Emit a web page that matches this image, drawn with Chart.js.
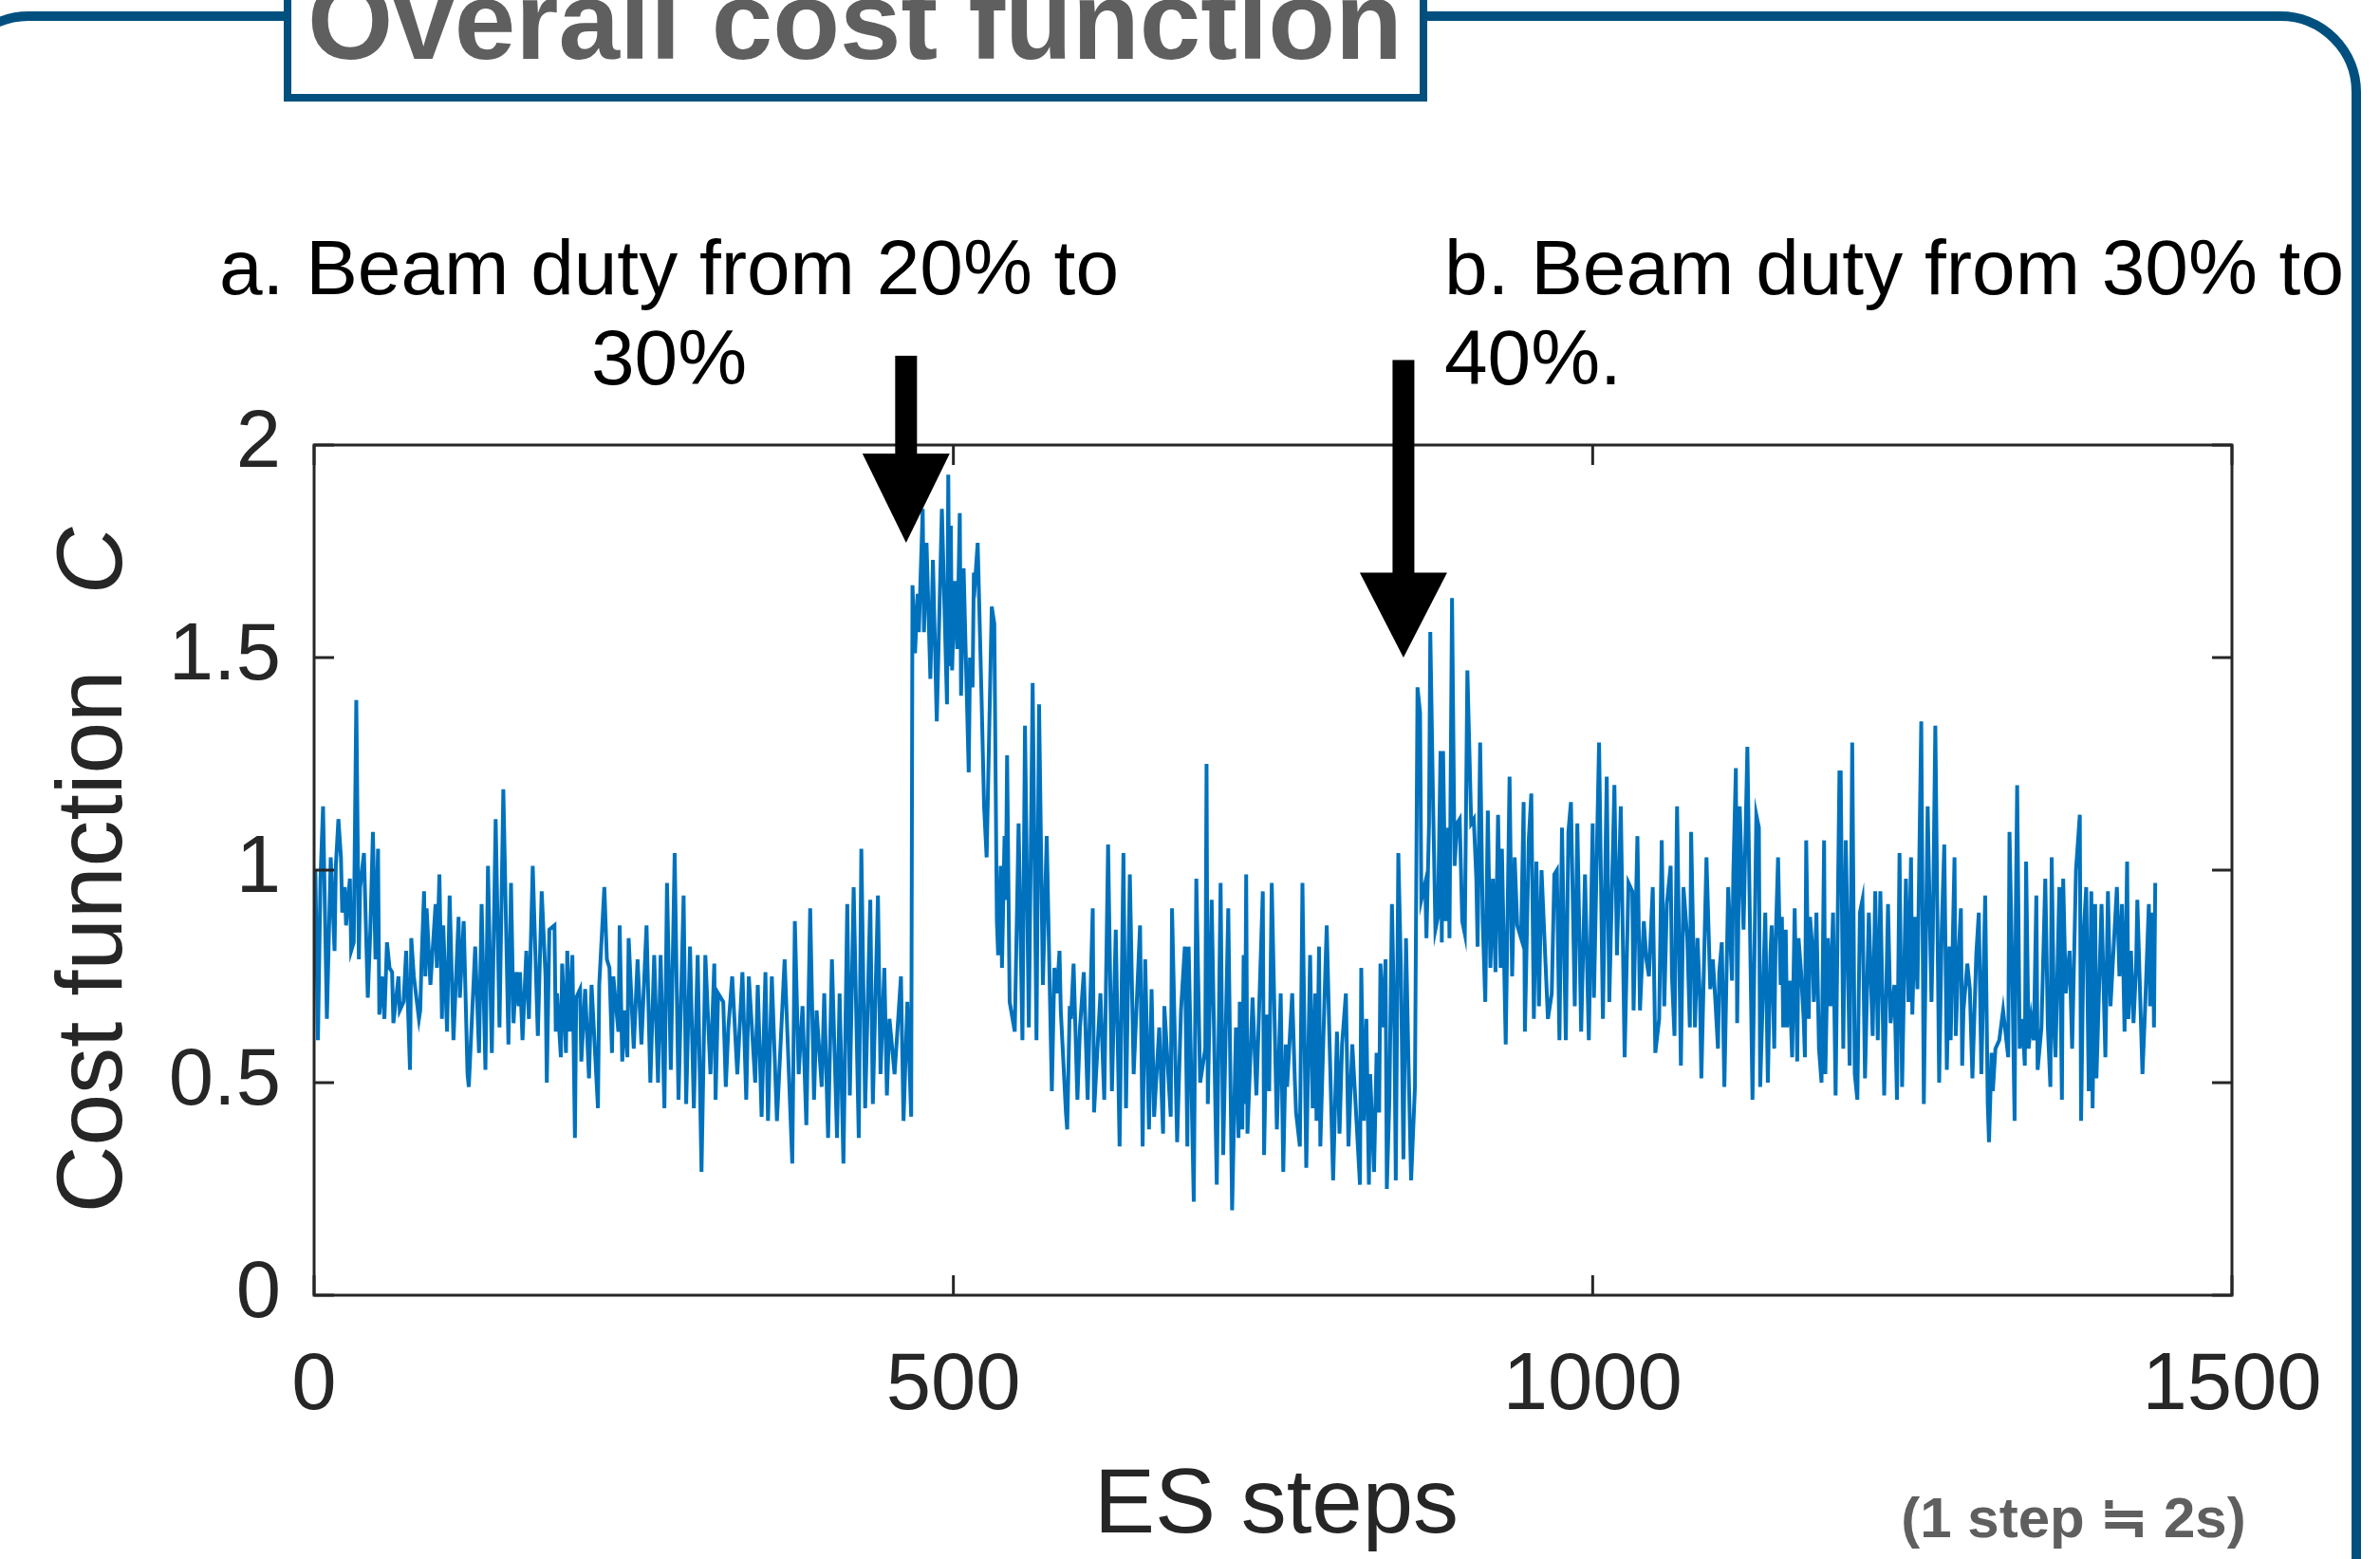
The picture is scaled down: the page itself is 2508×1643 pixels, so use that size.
<!DOCTYPE html>
<html>
<head>
<meta charset="utf-8">
<script src="https://cdn.jsdelivr.net/npm/chart.js@4.4.1/dist/chart.umd.min.js"></script>
<style>
  html, body { margin: 0; padding: 0; background: #fff; }
  #wrap { width: 2508px; height: 1643px; }
</style>
</head>
<body>
<div id="wrap"><canvas id="costChart" width="2508" height="1643"></canvas></div>
<script>
// ES step of each point (peaks and dips)
const steps = [
  0,1,3,5,7,10,13,16,17,19, 21,22,24,25,28,29,31,33,35,36, 39,42,44,46,48,50,51,53,55,57,
  59,61,62,66,67,70,72,75,76,78, 82,83,84,86,87,88,91,95,96,98, 100,101,104,106,109,113,114,117,120,121,
  126,129,131,134,136,139,142,145,148,152, 154,156,158,160,161,163,166,168,171,175, 178,181,182,184,188,189,190,193,194,197,
  198,200,202,204,205,208,209,212,215,217, 222,223,227,229,231,233,234,238,239,241, 243,245,246,250,253,256,260,263,266,269,
  271,274,276,279,282,285,289,291,294,297, 300,303,306,310,313,314,316,320,322,324, 327,331,335,338,340,345,347,350,353,355,
  358,362,368,374,376,
  // 20% -> 30% change
  379,382,385,388,391,393,397,399,402,405, 409,411,414,417,419,422,426,428,431,435, 437,441,443,446,448,450,454,459,461,464,
  467,468,470,472,473,476,477,479,482,484, 487,491,495,496,497,498,499,501,503,505, 506,508,512,513,515,516,517,519,522,524,
  526,530,532,534,535,537,538,540,541,542, 544,548,551,554,556,559,562,565,567,570, 573,577,579,581,583,584,588,589,591,592,
  594,597,599,602,605,609,610,615,618,621, 624,627,630,633,635,638,641,646,648,650, 653,655,657,661,664,665,670,671,675,678,
  681,683,684,688,690,693,697,698,699,702, 706,709,711,715,718,721,723,724,726,727, 728,729,730,734,737,742,743,745,747,749,
  // 30% -> 40% change
  753,756,758,760,761,765,767,768,771,773, 776,779,781,783,784,786,787,790,792,794, 797,800,802,804,807,809,812,814,818,819,
  821,823,825,826,829,831,833,834,836,838, 839,841,843,845,846,848,850,852,854,856, 858,861,863,865,866,869,870,872,873,875,
  877,879,881,882,883,885,887,888,890,892, 894,896,898,900,902,905,907,909,910,912, 914,916,918,920,922,924,926,928,929,932,
  935,937,939,941,944,946,947,950,952,954, 956,958,960,963,965,968,970,972,974,976, 979,981,983,986,988,991,994,997,1000,1001,
  1005,1008,1011,1013,1017,1019,1022,1025,1028,1031, 1032,1035,1037,1040,1042,1044,1047,1049,1052,1054,
  1056,1058,1061,1062,1064,1066,1069,1071,1074,1076, 1077,1080,1082,1084,1085,1087,1089,1092,1094,1096,
  1098,1099,1101,1103,1106,1109,1110,1112,1113,1115, 1118,1121,
  1125,1128,1130,1131,1135,1137,1139,1140,1142,1143, 1145,1147,1148,1149,1151,1152,1154,1156,1158,1160,
  1161,1163,1165,1166,1167,1169,1170,1172,1173,1175, 1177,1179,1181,1182,1184,1186,1188,1190,1193,1194,
  1196,1198,1201,1203,1205,1207,1209,1211,1213,1216, 1219,1221,1223,1225,1227,1228,1231,1233,1236,1238,
  1240,1242,1245,1247,1249,1250,1252,1254,1257,1259, 1262,1265,1266,1268,1271,1273,1275,1277,1279,1280,
  1283,1284,1286,1288,1289,1290,1293,1295,1297,1300, 1302,1304,1307,1309,1310,1312,1313,1315,1318,1321,
  1325,1326,1328,1330,1331,1332,1334,1336,1338,1339, 1341,1343,1345,1347,1348,1351,1354,1356,1358,1359,
  1361,1362,1365,1367,1368,1370,1373,1375,1378,1381, 1382,1384,1386,1388,1390,1391,1393,1394,1398,1401,
  1403,1405,1410,1412,1414,1416,1418,1419,1421,1423, 1425,1426,1430,1432,1435,1436,1438,1439,1440
];

// cost function C at those steps
const cost = [
  .78,1.00,.60,.98,1.15,.65,1.03,.81,1.01,1.12, 1.03,.90,.96,.87,.98,.81,.83,1.40,.79,.96, 1.04,.70,.86,1.09,.79,1.05,.66,.75,.65,.83,
  .77,.76,.64,.75,.67,.69,.81,.53,.84,.75, .65,.67,.78,.95,.75,.91,.73,.92,.77,.99, .65,.87,.62,.94,.60,.89,.70,.88,.52,.49,
  .82,.57,.92,.53,1.01,.57,1.12,.63,1.19,.59, .97,.64,.76,.68,.76,.60,.81,.65,1.01,.61, .95,.75,.50,.86,.87,.62,.71,.56,.78,.57,
  .81,.62,.80,.37,.70,.72,.55,.72,.51,.73, .44,.73,.96,.79,.77,.57,.75,.62,.87,.55, .67,.56,.84,.58,.79,.59,.87,.50,.80,.50,
  .80,.44,.97,.53,1.04,.46,.94,.45,.82,.44, .80,.29,.80,.52,.78,.46,.71,.69,.49,.63, .75,.52,.76,.46,.75,.50,.73,.42,.76,.41,
  .75,.41,.79,.31,.88,
  .52,.68,.40,.91,.46,.67,.49,.71,.37,.79, .37,.71,.31,.92,.47,.96,.37,1.05,.44,.93, .45,.94,.52,.77,.47,.65,.52,.75,.41,.69,
  .42,1.67,1.51,1.65,1.56,1.85,1.56,1.77,1.45,1.73, 1.35,1.85,1.39,1.93,1.48,1.81,1.47,1.68,1.52,1.84, 1.41,1.71,1.23,1.50,1.43,1.70,1.68,1.77,1.41,1.15,
  1.03,1.62,1.58,.88,.80,1.01,.77,1.08,.93,1.27, .69,.62,1.11,.60,1.34,.63,1.44,.60,1.39,.73, 1.08,.48,.77,.71,.81,.67,.43,.39,.68,.65,
  .78,.46,.63,.76,.46,.91,.43,.71,.46,1.06, .48,.86,.35,1.04,.44,.99,.52,.87,.35,.79, .39,.72,.42,.63,.38,.68,.42,.91,.36,.67,
  .82,.35,.82,.22,.98,.50,.58,1.25,.45,.93, .26,.97,.33,.91,.20,.63,.37,.69,.39,.80, .45,.99,.38,.70,.47,.95,.33,.66,.48,.97,
  .39,.71,.29,.59,.49,.71,.51,.43,.35,.97, .30,.80,.44,.71,.41,.82,.35,.67,.87,.62, .27,.62,.38,.59,.71,.35,.59,.48,.26,.77,
  .41,.65,.26,.52,.29,.57,.43,.78,.63,.79, .25,.46,.92,.61,.27,1.04,.77,.32,.84,.54, .27,.49,1.43,1.37,.93,.97,.84,1.11,1.56,1.19,
  .86,.89,1.28,.83,1.28,.88,1.10,.84,1.64,1.01, 1.11,1.12,.88,.85,1.47,1.11,1.12,.98,.82,1.30, .88,.69,1.14,.77,.98,.76,1.13,.77,1.05,.59,
  1.22,.75,1.03,.87,.84,1.16,.62,1.07,1.18,.65, 1.02,.68,1.00,.79,.65,.71,.99,1.00,.60,1.10, .60,1.09,1.16,.68,1.11,.62,.99,.60,1.11,.70,
  1.30,.65,1.22,.69,1.20,.80,1.15,.56,.97,.95, .67,1.08,.67,.88,.79,.75,.96,.57,.65,1.07,
  .68,.92,1.01,.75,.61,1.15,.54,.96,.84,.63, 1.09,.63,.84,.69,.51,.77,1.03,.72,.79,.69,
  .58,.76,.83,.49,.96,.74,.99,1.24,.64,1.15, .86,1.29,
  .46,1.13,1.10,.49,.90,.50,.80,.87,.58,.82, 1.03,.73,.89,.63,.86,.63,.74,.56,.91,.55,
  .84,.76,.65,.56,1.07,.65,.89,.81,.69,.90, .58,.50,1.07,.52,.84,.68,.90,.47,1.23,1.23,
  .58,1.07,.54,1.30,.52,.46,.90,.93,.51,.90, .61,.95,.60,.95,.64,.47,.92,.64,.73,.46,
  1.04,.49,.98,.69,1.03,.66,.89,.72,1.35,.45, 1.15,.69,.84,1.34,.50,.86,1.06,.53,.82,.60,
  1.03,.61,.79,.91,.54,.67,.78,.72,.51,.80, .90,.52,.94,.45,.36,.57,.48,.58,.60,.67,
  .56,1.09,.79,.41,.92,1.20,.58,.65,.54,1.02, .58,.65,.60,.94,.53,.63,.98,.63,.49,1.03,
  .62,.56,.96,.46,.98,.71,.81,.58,1.00,1.13, .41,.85,.96,.48,.95,.44,.92,.51,.92,.56,
  .95,.68,.96,.75,.92,.62,1.02,.65,.81,.64, .77,.93,.52,.67,.92,.68,.90,.63,.97
];

const xTicks = [0, 500, 1000, 1500];
const yTicks = [0, 0.5, 1, 1.5, 2];

const titleText = 'Overall cost function';
const noteA = ['a. Beam duty from 20% to', '30%'];
const noteB = ['b. Beam duty from 30% to', '40%.'];
const stepNote = '(1 step \u2252 2s)';

// arrows: x in ES steps, tip / head base / shaft top in C units
const arrowA = { x: 463, tip: 1.77, base: 1.98, top: 2.21 };
const arrowB = { x: 852, tip: 1.50, base: 1.70, top: 2.20 };

const AXIS = '#262626';
const FRAME = '#00507f';
const FONT = '"Liberation Sans", "Helvetica Neue", Helvetica, Arial, sans-serif';

if (steps.length !== cost.length) console.log('length mismatch', steps.length, cost.length);

function drawArrow(c, chart, a) {
  const xs = chart.scales.x, ys = chart.scales.y;
  const x = xs.getPixelForValue(a.x);
  const tip = ys.getPixelForValue(a.tip);
  const base = ys.getPixelForValue(a.base);
  const top = ys.getPixelForValue(a.top);
  c.fillStyle = '#000';
  c.fillRect(x - 11.5, top, 23, base - top + 1);
  c.beginPath();
  c.moveTo(x - 46, base);
  c.lineTo(x + 46, base);
  c.lineTo(x, tip);
  c.closePath();
  c.fill();
}

const decor = {
  id: 'decor',
  beforeDraw(chart) {
    const c = chart.ctx;
    c.save();
    c.fillStyle = '#fff';
    c.fillRect(0, 0, chart.width, chart.height);
    // outer rounded frame
    c.strokeStyle = FRAME;
    c.lineWidth = 10;
    c.beginPath();
    c.roundRect(-50, 17, 2533, 1800, 80);
    c.stroke();
    // title box
    c.fillStyle = '#fff';
    c.fillRect(303, -20, 1197, 123);
    c.lineWidth = 8;
    c.strokeRect(303, -20, 1197, 123);
    c.fillStyle = '#5f5f5f';
    c.font = 'bold 116px ' + FONT;
    c.textAlign = 'center';
    c.textBaseline = 'alphabetic';
    c.fillText(titleText, 901, 62);
    c.restore();
  },
  afterDatasetsDraw(chart) {
    const c = chart.ctx;
    const a = chart.chartArea;
    const xs = chart.scales.x, ys = chart.scales.y;
    c.save();
    // axes box
    c.strokeStyle = AXIS;
    c.lineWidth = 3;
    c.strokeRect(a.left, a.top, a.right - a.left, a.bottom - a.top);
    // inward ticks on all four sides
    c.beginPath();
    xs.ticks.forEach(t => {
      const px = xs.getPixelForValue(t.value);
      c.moveTo(px, a.bottom); c.lineTo(px, a.bottom - 21);
      c.moveTo(px, a.top); c.lineTo(px, a.top + 21);
    });
    ys.ticks.forEach(t => {
      const py = ys.getPixelForValue(t.value);
      c.moveTo(a.left, py); c.lineTo(a.left + 21, py);
      c.moveTo(a.right, py); c.lineTo(a.right - 21, py);
    });
    c.stroke();

    // arrows
    drawArrow(c, chart, arrowA);
    drawArrow(c, chart, arrowB);

    // annotation text
    c.fillStyle = '#000';
    c.font = '82px ' + FONT;
    c.textBaseline = 'alphabetic';
    c.textAlign = 'center';
    c.fillText(noteA[0], 705, 310);
    c.fillText(noteA[1], 705, 405);
    c.textAlign = 'left';
    c.fillText(noteB[0], 1522, 310);
    c.fillText(noteB[1], 1522, 405);

    // axis titles
    c.fillStyle = AXIS;
    c.font = '96px ' + FONT;
    c.textAlign = 'center';
    c.fillText('ES steps', 1345, 1615);

    c.save();
    c.translate(128, (a.top + a.bottom) / 2);
    c.rotate(-Math.PI / 2);
    c.textAlign = 'left';
    c.font = '98px ' + FONT;
    const w1 = c.measureText('Cost function').width;
    c.font = 'italic 98px ' + FONT;
    const w2 = c.measureText('C').width;
    const gap = 80;
    const x0 = -(w1 + gap + w2) / 2;
    c.font = '98px ' + FONT;
    c.fillText('Cost function', x0, 0);
    c.font = 'italic 98px ' + FONT;
    c.fillText('C', x0 + w1 + gap, 0);
    c.restore();

    // time note
    c.fillStyle = '#5f5f5f';
    c.font = 'bold 60px ' + FONT;
    c.textAlign = 'center';
    c.fillText(stepNote, 2185, 1620);
    c.restore();
  }
};

const ctx = document.getElementById('costChart').getContext('2d');
new Chart(ctx, {
  type: 'line',
  data: {
    datasets: [{
      data: steps.map((s, i) => ({ x: s, y: cost[i] })),
      borderColor: '#0072bd',
      borderWidth: 4,
      pointRadius: 0,
      tension: 0,
      fill: false
    }]
  },
  options: {
    responsive: false,
    animation: false,
    devicePixelRatio: 1,
    layout: { padding: { left: 0, top: 469, right: 156, bottom: 108 } },
    plugins: { legend: { display: false }, tooltip: { enabled: false } },
    scales: {
      x: {
        type: 'linear',
        min: 0,
        max: 1500,
        afterBuildTicks: s => { s.ticks = xTicks.map(v => ({ value: v })); },
        afterFit: s => { s.height = 170; },
        grid: { display: false, drawTicks: false },
        border: { display: false },
        ticks: {
          padding: 46,
          color: AXIS,
          maxRotation: 0,
          autoSkip: false,
          font: { family: FONT, size: 85 },
          callback: v => String(v)
        }
      },
      y: {
        type: 'linear',
        min: 0,
        max: 2,
        afterBuildTicks: s => { s.ticks = yTicks.map(v => ({ value: v })); },
        afterFit: s => { s.width = 331; },
        grid: { display: false, drawTicks: false },
        border: { display: false },
        ticks: {
          padding: 35,
          color: AXIS,
          font: { family: FONT, size: 85 },
          callback: v => String(v)
        }
      }
    }
  },
  plugins: [decor]
});
</script>
</body>
</html>
